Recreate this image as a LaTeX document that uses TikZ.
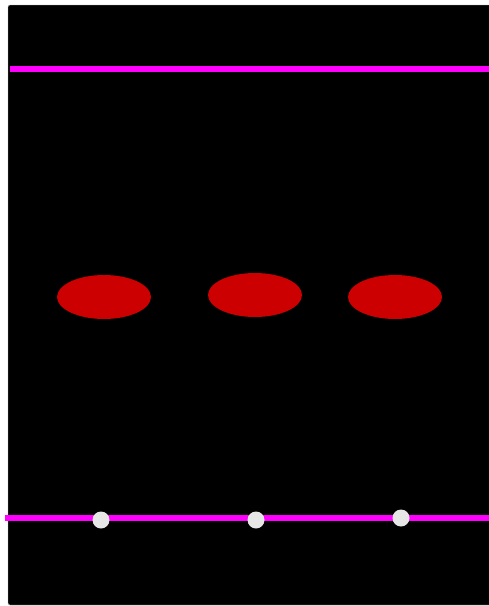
\documentclass[tikz,border=0pt]{standalone}
\definecolor{bandcol}{RGB}{255,0,255}
\definecolor{spotcol}{RGB}{204,0,0}
\definecolor{dotcol}{RGB}{230,230,230}
\begin{document}
\begin{tikzpicture}[x=1pt,y=-1pt,
  spot/.style={fill=spotcol, draw=none},
  dotnode/.style={circle, fill=dotcol, draw=none, minimum size=17pt, inner sep=0pt},
  band/.style={draw=bandcol, line width=6pt}]
\useasboundingbox (0,0) rectangle (489,606);
\fill[white] (0,0) rectangle (489,606);
\draw[black!30, fill=black, rounded corners=2pt] (8,5) rectangle (492,605);
\coordinate (tl) at (10,69);
\coordinate (tr) at (489,69);
\draw[band] (tl) -- (tr);
\coordinate (bl) at (5,518);
\coordinate (br) at (489,518);
\draw[band] (bl) -- (br);
\fill[spot] (104,297) ellipse [x radius=47, y radius=22];
\fill[spot] (255,295) ellipse [x radius=47, y radius=22];
\fill[spot] (395,297) ellipse [x radius=47, y radius=22];
\node[dotnode] (d1) at (101,520) {};
\node[dotnode] (d2) at (256,520) {};
\node[dotnode] (d3) at (401,518) {};
\end{tikzpicture}
\end{document}
